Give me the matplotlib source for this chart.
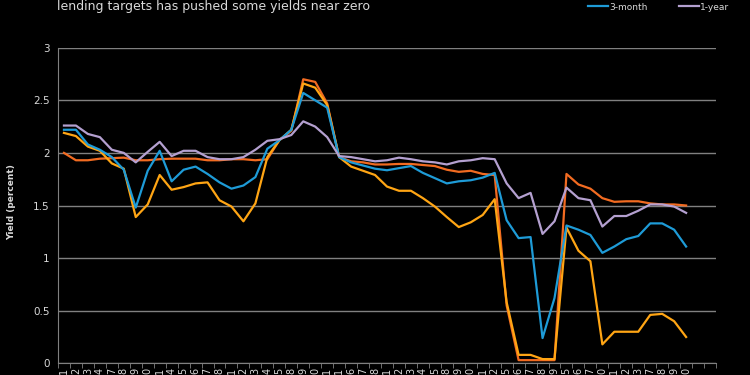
import matplotlib.pyplot as plt
import numpy as np

# x categories (only the last character of each date label is visible in the source)
labels = ["1", "2", "3", "4", "7", "8", "9", "0", "1", "4", "5", "6", "7", "8",
          "1", "2", "3", "4", "5", "8", "9", "0", "1", "1", "6", "7", "8",
          "1", "2", "3", "4", "5", "8", "9", "0", "1", "2", "5", "6", "7", "8", "9",
          "5", "6", "7", "0", "1", "2", "3", "7", "8", "9", "0", "", ""]

three_month = [2.22, 2.22, 2.08, 2.03, 1.96, 1.84, 1.48, 1.83, 2.02, 1.73, 1.84, 1.87, 1.80, 1.72,
               1.66, 1.69, 1.77, 2.04, 2.12, 2.22, 2.57, 2.50, 2.43, 1.96, 1.91, 1.88, 1.85,
               1.835, 1.855, 1.875, 1.81, 1.76, 1.71, 1.73, 1.74, 1.765, 1.81, 1.36, 1.19, 1.20, 0.24, 0.62,
               1.31, 1.27, 1.22, 1.05, 1.11, 1.18, 1.21, 1.33, 1.33, 1.27, 1.11, None, None]

one_year = [2.26, 2.26, 2.18, 2.15, 2.03, 2.00, 1.91, 2.01, 2.105, 1.97, 2.02, 2.02, 1.96, 1.94,
            1.94, 1.96, 2.03, 2.115, 2.13, 2.17, 2.30, 2.25, 2.15, 1.97, 1.96, 1.94, 1.92,
            1.93, 1.955, 1.94, 1.92, 1.91, 1.89, 1.92, 1.93, 1.95, 1.94, 1.71, 1.57, 1.62, 1.23, 1.35,
            1.67, 1.57, 1.55, 1.30, 1.40, 1.40, 1.45, 1.51, 1.51, 1.49, 1.43, None, None]

series_orange = [2.00, 1.93, 1.93, 1.945, 1.95, 1.955, 1.93, 1.93, 1.94, 1.945, 1.945, 1.945, 1.93, 1.93,
                 1.94, 1.94, 1.93, 1.94, 2.12, 2.21, 2.70, 2.675, 2.47, 1.96, 1.92, 1.91, 1.89,
                 1.89, 1.895, 1.895, 1.885, 1.875, 1.84, 1.82, 1.83, 1.80, 1.79, 0.55, 0.03, 0.03, 0.03, 0.03,
                 1.80, 1.70, 1.66, 1.57, 1.535, 1.54, 1.54, 1.52, 1.51, 1.51, 1.50, None, None]

series_amber = [2.19, 2.16, 2.06, 2.02, 1.90, 1.85, 1.39, 1.51, 1.79, 1.65, 1.675, 1.71, 1.72, 1.55,
                1.49, 1.35, 1.52, 1.96, 2.12, 2.22, 2.66, 2.62, 2.455, 1.96, 1.87, 1.83, 1.79,
                1.68, 1.64, 1.64, 1.57, 1.49, 1.39, 1.295, 1.34, 1.41, 1.56, 0.58, 0.08, 0.08, 0.04, 0.04,
                1.29, 1.07, 0.97, 0.18, 0.30, 0.30, 0.30, 0.46, 0.47, 0.40, 0.25, None, None]

fg = "#d9d9d9"
grid_c = "#808080"

fig = plt.figure(figsize=(7.5, 3.75), dpi=100, facecolor="black")
ax = fig.add_axes([0.0773, 0.0312, 0.8774, 0.8416], facecolor="black")

x = np.arange(len(labels))


def clean(vals):
    return np.array([np.nan if v is None else v for v in vals], dtype=float)


ax.plot(x, clean(series_orange), color="#f26b21", lw=1.6, label="_nolegend_")
ax.plot(x, clean(series_amber), color="#ffa514", lw=1.6, label="_nolegend_")
ax.plot(x, clean(three_month), color="#1e9bd7", lw=1.6, label="3-month")
ax.plot(x, clean(one_year), color="#b4a0d0", lw=1.6, label="1-year")

ax.set_xlim(-0.5, len(labels) - 0.5)
ax.set_ylim(0, 3)
ax.set_yticks(np.arange(0, 3.01, 0.5))
ax.set_yticklabels(["0", "0.5", "1", "1.5", "2", "2.5", "3"])
ax.yaxis.grid(True, color=grid_c, lw=1)
ax.set_axisbelow(True)

ax.set_xticks(x)
ax.set_xticklabels(labels, rotation=90, fontsize=7, color=fg)
ax.set_xticks(np.arange(-0.5, len(labels), 1), minor=True)
ax.tick_params(axis="x", which="major", length=0, pad=3)
ax.tick_params(axis="x", which="minor", length=3.5, color=grid_c, direction="out")
ax.tick_params(axis="y", length=0, labelsize=7.5, labelcolor=fg, pad=6)

for s in ["top", "right"]:
    ax.spines[s].set_visible(False)
ax.spines["left"].set_color(grid_c)
ax.spines["bottom"].set_color(grid_c)

fig.text(0.016, 0.46, "Yield (percent)", rotation=90, color=fg, fontsize=6.5,
         fontweight="bold", ha="center", va="center")

fig.text(0.076, 0.982, "lending targets has pushed some yields near zero", color=fg,
         fontsize=9, ha="left", va="center")

leg = ax.legend(loc="center right", bbox_to_anchor=(0.972, 0.981), bbox_transform=fig.transFigure,
                ncol=2, frameon=False, fontsize=6.5, handlelength=2.2, handletextpad=0.15,
                columnspacing=3.4, borderaxespad=0, borderpad=0)
for t in leg.get_texts():
    t.set_color(fg)

fig.savefig("out.png", dpi=100, facecolor="black")
